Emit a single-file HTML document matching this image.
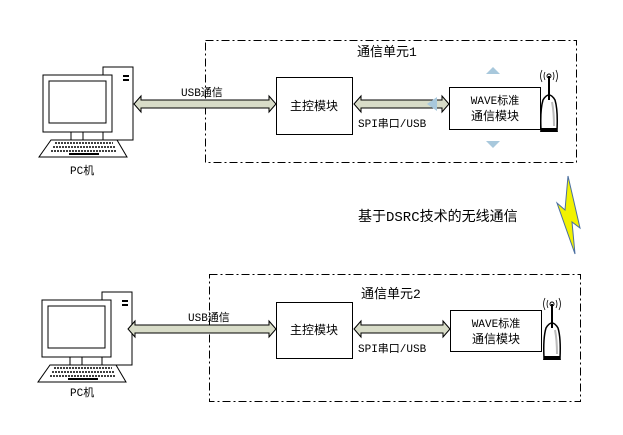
<!DOCTYPE html>
<html><head><meta charset="utf-8"><style>
body{margin:0;background:#fff;}
svg{display:block;font-family:"Liberation Mono","Noto Sans CJK SC",monospace;}
</style></head><body>
<svg width="623" height="435" viewBox="0 0 623 435" xmlns="http://www.w3.org/2000/svg">
<defs>
<g id="pc">
  <rect x="60" y="-8" width="30" height="73" fill="#fff" stroke="#000"/>
  <rect x="80" y="0" width="6" height="2" fill="#000"/><rect x="80" y="4" width="6" height="2" fill="#000"/>
  <rect x="0" y="0" width="69" height="57" fill="#fff" stroke="#000"/>
  <rect x="6" y="6" width="57" height="42" fill="#fff" stroke="#000"/>
  <rect x="28" y="57" width="12" height="8" fill="#fff" stroke="#000"/>
  <polygon points="8,65 74,65 84,82 -4,82" fill="#fff" stroke="#000"/>
  <path d="M12,68 h58 M10,72 h62 M8,76 h66" stroke="#000" stroke-width="1.5" stroke-dasharray="2,1"/>
  <rect x="26" y="78" width="30" height="2" fill="#000"/>
</g>
<g id="ant">
  <path d="M1,60 Q0,40 3,30 Q9,20 15,30 Q18,40 17,60 Z" fill="#fff" stroke="#000" stroke-width="1.5"/>
  <path d="M12,32 Q14,42 14,56" stroke="#bbb" stroke-width="2" fill="none"/>
  <path d="M1,58 L17,58 L18,62 L0,62Z" fill="#000"/>
  <line x1="9" y1="6" x2="9" y2="30" stroke="#000" stroke-width="2"/>
  <circle cx="9" cy="6" r="2" fill="none" stroke="#000"/>
  <path d="M5,2 Q3,6 5,10 M13,2 Q15,6 13,10 M2,0 Q-1,6 2,12 M16,0 Q19,6 16,12" fill="none" stroke="#000" stroke-width="0.8"/>
</g>
</defs>

<rect x="205.5" y="40.5" width="371" height="122" fill="none" stroke="#000" stroke-dasharray="8,3,2,3"/>
<use href="#pc" x="43" y="75"/>
<text x="70" y="174" font-size="11">PC机</text>
<polygon points="134,104 141,96 141,100 269,100 269,96 276,104 269,112 269,108 141,108 141,112" fill="#d8dcc8" stroke="#000"/>
<text x="181" y="96" font-size="11">USB通信</text>
<rect x="276.5" y="77.5" width="76" height="57" fill="#fff" stroke="#000"/>
<text x="314" y="110" font-size="12" text-anchor="middle">主控模块</text>
<polygon points="354,104 361,96 361,100 442,100 442,96 449,104 442,112 442,108 361,108 361,112" fill="#d8dcc8" stroke="#000"/>
<polygon points="427,104 437,97 437,111" fill="#a8c8dc"/>
<text x="358" y="127" font-size="11">SPI串口/USB</text>
<rect x="449.5" y="87.5" width="91" height="42" fill="#fff" stroke="#000"/>
<text x="495" y="104" font-size="11" text-anchor="middle">WAVE标准</text>
<text x="495" y="120" font-size="12" text-anchor="middle">通信模块</text>
<polygon points="486,74 493,67 500,74" fill="#a8c8dc"/>
<polygon points="486,141 493,148 500,141" fill="#a8c8dc"/>
<use href="#ant" x="540" y="70"/>
<text x="357" y="56" font-size="13">通信单元1</text>

<text x="358" y="221" font-size="14">基于DSRC技术的无线通信</text>
<polygon points="568,176 565,210 557,203 575,254 572,222 580,228" fill="#f2f200" stroke="#4a6ea0"/>

<rect x="209.5" y="274.5" width="371" height="127" fill="none" stroke="#000" stroke-dasharray="8,3,2,3"/>
<use href="#pc" x="42" y="300"/>
<text x="70" y="396" font-size="11">PC机</text>
<polygon points="128,329 135,321 135,325 269,325 269,321 276,329 269,337 269,333 135,333 135,337" fill="#d8dcc8" stroke="#000"/>
<text x="188" y="321" font-size="11">USB通信</text>
<rect x="276.5" y="302.5" width="76" height="56" fill="#fff" stroke="#000"/>
<text x="314" y="334" font-size="12" text-anchor="middle">主控模块</text>
<polygon points="354,329 361,321 361,325 443,325 443,321 450,329 443,337 443,333 361,333 361,337" fill="#d8dcc8" stroke="#000"/>
<text x="358" y="352" font-size="11">SPI串口/USB</text>
<rect x="450.5" y="310.5" width="91" height="41" fill="#fff" stroke="#000"/>
<text x="496" y="327" font-size="11" text-anchor="middle">WAVE标准</text>
<text x="496" y="343" font-size="12" text-anchor="middle">通信模块</text>
<use href="#ant" x="543" y="298"/>
<text x="361" y="298" font-size="13">通信单元2</text>
</svg>
</body></html>
